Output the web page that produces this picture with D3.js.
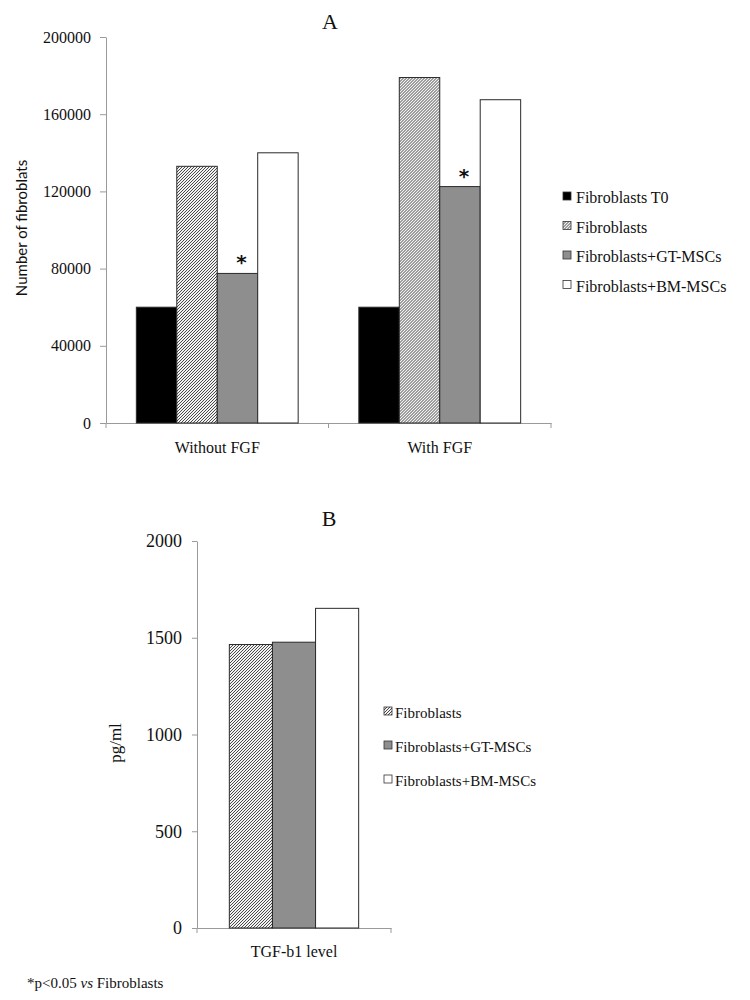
<!DOCTYPE html>
<html>
<head>
<meta charset="utf-8">
<script src="https://cdn.jsdelivr.net/npm/d3@7/dist/d3.min.js"></script>
<style>
  html, body { margin: 0; padding: 0; background: #fff; }
  svg { display: block; }
</style>
</head>
<body>
<svg id="chart" width="750" height="1000"></svg>
<script>
// ---------- Data ----------
const groupsA = ["Without FGF", "With FGF"];
const seriesA = ["Fibroblasts T0", "Fibroblasts", "Fibroblasts+GT-MSCs", "Fibroblasts+BM-MSCs"];
const valuesWithoutFGF = [60000, 133000, 77500, 140000];
const valuesWithFGF = [60000, 179000, 122500, 167500];
const significantA = ["Fibroblasts+GT-MSCs"];
const ticksA = [0, 40000, 80000, 120000, 160000, 200000];

const groupsB = ["TGF-b1 level"];
const seriesB = ["Fibroblasts", "Fibroblasts+GT-MSCs", "Fibroblasts+BM-MSCs"];
const valuesTGF = [1465, 1477, 1652];
const ticksB = [0, 500, 1000, 1500, 2000];

// ---------- Styles ----------
const SERIF = "'Liberation Serif', 'Times New Roman', serif";
const fills = {
  "Fibroblasts T0": "#000000",
  "Fibroblasts": "url(#hatch)",
  "Fibroblasts+GT-MSCs": "#8e8e8e",
  "Fibroblasts+BM-MSCs": "#ffffff"
};
const axisColor = "#9a9a9a";
const barStroke = "#2a2a2a";

const svg = d3.select("#chart");
const defs = svg.append("defs");
const pat = defs.append("pattern")
  .attr("id", "hatch").attr("patternUnits", "userSpaceOnUse")
  .attr("width", 3).attr("height", 3);
pat.append("rect").attr("width", 3).attr("height", 3).attr("fill", "#f2f2f2");
pat.selectAll(".px").data([[0, 2], [1, 1], [2, 0]]).join("rect").attr("class", "px")
  .attr("x", d => d[0]).attr("y", d => d[1]).attr("width", 1).attr("height", 1)
  .attr("fill", "#4a4a4a").attr("shape-rendering", "crispEdges");

function serifText(sel, size) {
  sel.style("font-family", SERIF).style("font-size", size + "px").attr("fill", "#111");
}

// ---------- Chart A ----------
const dataA = groupsA.map((g, i) => ({
  group: g,
  values: seriesA.map((s, j) => ({ series: s, value: [valuesWithoutFGF, valuesWithFGF][i][j] }))
}));

const yA = d3.scaleLinear().domain([0, 200000]).range([423, 37]);
const xA0 = d3.scaleBand().domain(groupsA).range([106, 551]).padding(0);
const xA1 = d3.scaleBand().domain(seriesA).range([0, xA0.bandwidth()]).paddingInner(0).paddingOuter(0.75);

const gA = svg.append("g");

const yAxisA = gA.append("g").attr("transform", `translate(${xA0.range()[0]},0)`)
  .call(d3.axisLeft(yA).tickValues(ticksA).tickSize(6).tickSizeOuter(0).tickPadding(9).tickFormat(d3.format("d")));
yAxisA.attr("font-family", null);
yAxisA.selectAll("path, line").attr("stroke", axisColor);
yAxisA.selectAll("text").call(serifText, 16);

const xAxisA = gA.append("g").attr("transform", `translate(0,${yA(0)})`)
  .call(d3.axisBottom(xA0).tickSize(0).tickSizeOuter(0).tickPadding(19));
xAxisA.attr("font-family", null);
xAxisA.select("path").attr("stroke", axisColor);
xAxisA.selectAll("text").call(serifText, 16);
const boundsA = [xA0.range()[0]].concat(groupsA.map(g => xA0(g) + xA0.bandwidth()));
xAxisA.selectAll(".bnd").data(boundsA).join("line").attr("class", "bnd")
  .attr("x1", d => d).attr("x2", d => d).attr("y1", 0).attr("y2", 5)
  .attr("stroke", axisColor);

const grpA = gA.selectAll(".grpA").data(dataA).join("g").attr("class", "grpA")
  .attr("transform", d => `translate(${xA0(d.group)},0)`);
grpA.selectAll("rect").data(d => d.values).join("rect")
  .attr("x", d => xA1(d.series))
  .attr("y", d => yA(d.value))
  .attr("width", xA1.bandwidth())
  .attr("height", d => yA(0) - yA(d.value))
  .attr("fill", d => fills[d.series])
  .attr("stroke", barStroke).attr("stroke-width", 1);
grpA.selectAll(".star").data(d => d.values.filter(v => significantA.includes(v.series))).join("text")
  .attr("class", "star")
  .attr("x", d => xA1(d.series) + xA1.bandwidth() / 2 + 4)
  .attr("y", d => yA(d.value) - 4)
  .attr("text-anchor", "middle")
  .style("font-family", "'DejaVu Sans', sans-serif").style("font-size", "20px").style("font-weight", "bold")
  .attr("fill", "#111")
  .text("*");

gA.append("text").attr("x", 330).attr("y", 29)
  .attr("text-anchor", "middle").call(serifText, 22).text("A");

gA.append("text").attr("transform", "translate(27,228) rotate(-90)")
  .attr("text-anchor", "middle")
  .style("font-family", "Lato, 'Open Sans', sans-serif").style("font-size", "15px")
  .attr("fill", "#111")
  .text("Number of fibroblats");

const legA = gA.append("g").attr("transform", "translate(563,192)");
const legAItems = legA.selectAll("g").data(seriesA).join("g")
  .attr("transform", (d, i) => `translate(0,${i * 29.5})`);
legAItems.append("rect").attr("width", 8).attr("height", 8)
  .attr("fill", d => fills[d]).attr("stroke", "#333").attr("stroke-width", 0.8);
legAItems.append("text").attr("x", 13).attr("y", 11)
  .call(serifText, 16).text(d => d);

// ---------- Chart B ----------
const dataB = groupsB.map((g) => ({
  group: g,
  values: seriesB.map((s, j) => ({ series: s, value: valuesTGF[j] }))
}));

const yB = d3.scaleLinear().domain([0, 2000]).range([928, 541]);
const xB0 = d3.scaleBand().domain(groupsB).range([197, 391]).padding(0);
const xB1 = d3.scaleBand().domain(seriesB).range([0, xB0.bandwidth()]).paddingInner(0).paddingOuter(0.75);

const gB = svg.append("g");
const yAxisB = gB.append("g").attr("transform", `translate(${xB0.range()[0]},0)`)
  .call(d3.axisLeft(yB).tickValues(ticksB).tickSize(5).tickSizeOuter(0).tickPadding(10).tickFormat(d3.format("d")));
yAxisB.attr("font-family", null);
yAxisB.selectAll("path, line").attr("stroke", axisColor);
yAxisB.selectAll("text").call(serifText, 18);

const xAxisB = gB.append("g").attr("transform", `translate(0,${yB(0)})`)
  .call(d3.axisBottom(xB0).tickSize(0).tickSizeOuter(0).tickPadding(18));
xAxisB.attr("font-family", null);
xAxisB.select("path").attr("stroke", axisColor);
xAxisB.selectAll("text").call(serifText, 16);
const boundsB = [xB0.range()[0]].concat(groupsB.map(g => xB0(g) + xB0.bandwidth()));
xAxisB.selectAll(".bnd").data(boundsB).join("line").attr("class", "bnd")
  .attr("x1", d => d).attr("x2", d => d).attr("y1", 0).attr("y2", 5)
  .attr("stroke", axisColor);

const grpB = gB.selectAll(".grpB").data(dataB).join("g").attr("class", "grpB")
  .attr("transform", d => `translate(${xB0(d.group)},0)`);
grpB.selectAll("rect").data(d => d.values).join("rect")
  .attr("x", d => xB1(d.series))
  .attr("y", d => yB(d.value))
  .attr("width", xB1.bandwidth())
  .attr("height", d => yB(0) - yB(d.value))
  .attr("fill", d => fills[d.series])
  .attr("stroke", barStroke).attr("stroke-width", 1);

gB.append("text").attr("x", 329).attr("y", 526)
  .attr("text-anchor", "middle").call(serifText, 22).text("B");

gB.append("text").attr("transform", "translate(121,743) rotate(-90)")
  .attr("text-anchor", "middle").call(serifText, 17).text("pg/ml");

const legB = gB.append("g").attr("transform", "translate(384,707)");
const legBItems = legB.selectAll("g").data(seriesB).join("g")
  .attr("transform", (d, i) => `translate(0,${i * 34})`);
legBItems.append("rect").attr("width", 8).attr("height", 8)
  .attr("fill", d => fills[d]).attr("stroke", "#333").attr("stroke-width", 0.8);
legBItems.append("text").attr("x", 11).attr("y", 11)
  .call(serifText, 15).text(d => d);

const foot = svg.append("text").attr("x", 27).attr("y", 988).call(serifText, 15);
foot.append("tspan").text("*p<0.05 ");
foot.append("tspan").style("font-style", "italic").text("vs");
foot.append("tspan").text(" Fibroblasts");
</script>
</body>
</html>
